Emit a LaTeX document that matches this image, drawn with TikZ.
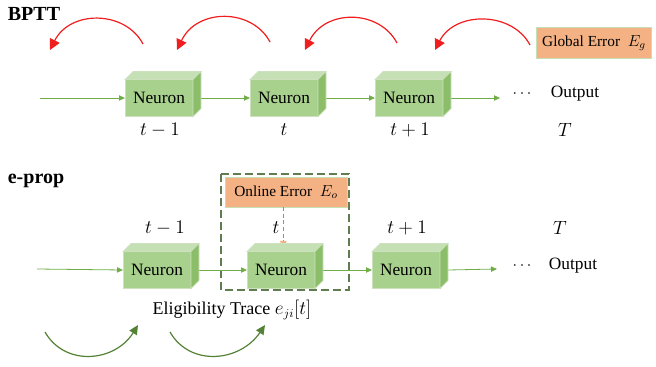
\documentclass[tikz,border=0pt]{standalone}
\usepackage{fontspec}
\setmainfont{Liberation Serif}
\usetikzlibrary{arrows.meta}
\definecolor{frontgreen}{RGB}{169,209,142}
\definecolor{topgreen}{RGB}{197,224,180}
\definecolor{sidegreen}{RGB}{140,190,105}
\definecolor{edgegreen}{RGB}{205,225,190}
\definecolor{flowgreen}{RGB}{112,173,71}
\definecolor{darkgreen}{RGB}{84,130,53}
\definecolor{dashgreen}{RGB}{96,125,80}
\definecolor{errorfill}{RGB}{244,177,131}
\definecolor{backred}{RGB}{240,30,30}
\tikzset{
  neuron/.style={draw=edgegreen, fill=frontgreen, line width=0.5pt, minimum width=51pt, minimum height=27.75pt, inner sep=0pt, outer sep=0pt, font=\fontsize{13}{15}\selectfont},
  errorbox/.style={draw=topgreen, fill=errorfill, line width=0.75pt, inner sep=0pt, outer sep=0pt, font=\fontsize{11.5}{13}\selectfont},
  flow/.style={flowgreen, line width=0.6pt, -{Triangle[length=4.5pt,width=4pt]}},
  backarc/.style={backred, line width=0.9pt, -{Triangle[length=8pt,width=8pt]}},
  tracearc/.style={darkgreen, line width=0.9pt, -{Triangle[length=7pt,width=6.5pt]}},
  steplabel/.style={font=\fontsize{14.5}{16}\selectfont},
  heading/.style={font=\fontsize{15}{17}\bfseries\selectfont},
}
\begin{document}
\begin{tikzpicture}[x=0.75pt,y=0.75pt,yscale=-1,xscale=1]
\useasboundingbox (0,0) rectangle (656,367);

%BPTT row
\node[heading] (bptt) at (34,14) {BPTT};
\node[neuron] (n1) at (159,98) {Neuron};
\node[neuron] (n2) at (284,98) {Neuron};
\node[neuron] (n3) at (409,98) {Neuron};
\coordinate (in1) at (40,98);
\coordinate (end1) at (500,98);
\node[font=\fontsize{13}{15}\selectfont] (dots1) at (522,94) {$\cdots$};
\node[font=\fontsize{13}{15}\selectfont] (out1) at (575,94) {Output};
\node[steplabel] (t1a) at (160,130) {$t-1$};
\node[steplabel] (t1b) at (284,130) {$t$};
\node[steplabel] (t1c) at (410,130) {$t+1$};
\node[steplabel] (t1d) at (565,130) {$T$};
\node[errorbox, minimum width=86pt, minimum height=23pt] (ge) at (594,43) {Global Error\ \ $E_g$};

\draw[flow] (in1) -- (n1.west);
\draw[flow] ([xshift=6pt]n1.east) -- (n2.west);
\draw[flow] ([xshift=6pt]n2.east) -- (n3.west);
\draw[flow] ([xshift=6pt]n3.east) -- (end1);

%backward arcs
\coordinate (b1s) at (143,44); \coordinate (b1e) at (50,50);
\coordinate (b2s) at (270,42); \coordinate (b2e) at (177,50);
\coordinate (b3s) at (397,43); \coordinate (b3e) at (305,50);
\coordinate (b4s) at (530,45); \coordinate (b4e) at (435,50);
\draw[backarc] (b1s) .. controls (125,10) and (70,10) .. (b1e);
\draw[backarc] (b2s) .. controls (252,8) and (197,8) .. (b2e);
\draw[backarc] (b3s) .. controls (379,9) and (325,9) .. (b3e);
\draw[backarc] (b4s) .. controls (512,11) and (455,11) .. (b4e);

%e-prop row
\node[heading] (eprop) at (36,181) {e-prop};
\draw[dashgreen, line width=0.9pt, dash pattern=on 6pt off 3pt] (221,174) rectangle (349,290);
\node[errorbox, minimum width=91.5pt, minimum height=22.5pt] (oe) at (286,192) {Online Error\ \ $E_o$};
\node[neuron] (m1) at (157,270) {Neuron};
\node[neuron] (m2) at (281,270) {Neuron};
\node[neuron] (m3) at (406,270) {Neuron};
\coordinate (in2) at (37,269);
\coordinate (end2) at (497,269);
\node[font=\fontsize{13}{15}\selectfont] (dots2) at (522,266) {$\cdots$};
\node[font=\fontsize{13}{15}\selectfont] (out2) at (573,266) {Output};
\node[steplabel] (t2a) at (165,228) {$t-1$};
\node[steplabel] (t2b) at (276,228) {$t$};
\node[steplabel] (t2c) at (407,228) {$t+1$};
\node[steplabel] (t2d) at (560,228) {$T$};
\node[font=\fontsize{13.5}{15}\selectfont] (trace) at (232,310) {Eligibility Trace $e_{ji}[t]$};

\draw[flow] (in2) -- (m1.west);
\draw[flow] ([xshift=6pt]m1.east) -- (m2.west);
\draw[flow] ([xshift=6pt]m2.east) -- (m3.west);
\draw[flow] ([xshift=6pt]m3.east) -- (end2);
\draw[flowgreen, line width=0.75pt, dash pattern=on 3pt off 2pt, shorten >=3pt, -{Triangle[length=5pt,width=5pt,color=errorfill]}] ([xshift=-2pt]oe.south) -- ([xshift=-2pt]oe.south |- m2.north);

%neuron cubes
\foreach \n in {n1,n2,n3,m1,m2,m3} {
  \draw[edgegreen, line width=0.5pt, fill=topgreen] (\n.north west) -- ++(8,-8) -- ++(68,0) -- ++(-8,8) -- cycle;
  \draw[edgegreen, line width=0.5pt, fill=sidegreen] (\n.north east) -- ++(8,-8) -- ++(0,37) -- ++(-8,8) -- cycle;
}

%trace arcs
\coordinate (g1s) at (45,332); \coordinate (g1e) at (138,325);
\coordinate (g2s) at (170,332); \coordinate (g2e) at (265,325);
\draw[tracearc] (g1s) .. controls (65,367) and (115,362) .. (g1e);
\draw[tracearc] (g2s) .. controls (190,367) and (240,362) .. (g2e);
\end{tikzpicture}
\end{document}
